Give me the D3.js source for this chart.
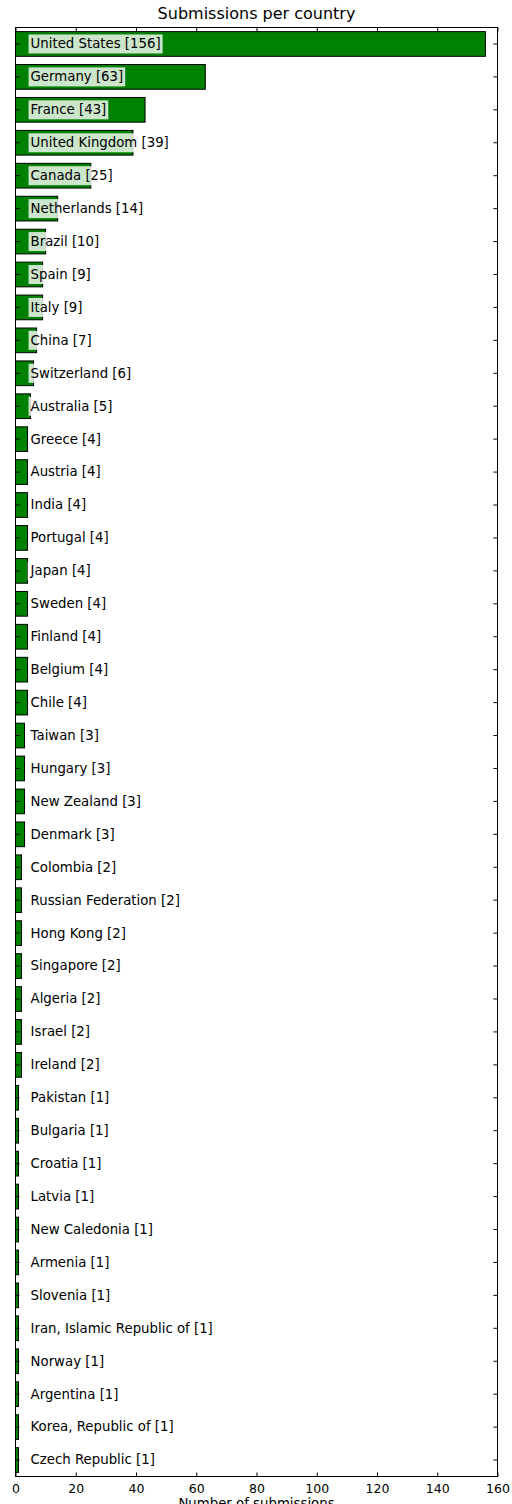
<!DOCTYPE html>
<html><head><meta charset="utf-8">
<script src="https://cdn.jsdelivr.net/npm/d3@7"></script>
<style>body{margin:0;background:#fff}svg{display:block;font-family:"DejaVu Sans",sans-serif}</style>
</head><body><svg id="c" width="512" height="1504"></svg>
<script>
const countries = ["United States","Germany","France","United Kingdom","Canada","Netherlands","Brazil","Spain","Italy","China","Switzerland","Australia","Greece","Austria","India","Portugal","Japan","Sweden","Finland","Belgium","Chile","Taiwan","Hungary","New Zealand","Denmark","Colombia","Russian Federation","Hong Kong","Singapore","Algeria","Israel","Ireland","Pakistan","Bulgaria","Croatia","Latvia","New Caledonia","Armenia","Slovenia","Iran, Islamic Republic of","Norway","Argentina","Korea, Republic of","Czech Republic"];
const submissions = [156,63,43,39,25,14,10,9,9,7,6,5,4,4,4,4,4,4,4,4,4,3,3,3,3,2,2,2,2,2,2,2,1,1,1,1,1,1,1,1,1,1,1,1];
const xTicks = [0,20,40,60,80,100,120,140,160];

const svg = d3.select("#c");
const L=15.5, R=497.5, T=27.5, B=1476.5;
const x = d3.scaleLinear().domain([0,160]).range([L,R]);
const y = d3.scaleBand().domain(countries).range([T,B]).paddingInner(0.25).paddingOuter(0.125);

const g = svg.append("g");
g.selectAll("rect.bar").data(countries).join("rect").attr("class","bar")
  .attr("x",x(0)).attr("y",d=>y(d))
  .attr("width",(d,i)=>x(submissions[i])-x(0)).attr("height",y.bandwidth())
  .attr("fill","#008000").attr("stroke","#000").attr("stroke-width",1);

const lab = g.selectAll("g.lab").data(countries).join("g").attr("class","lab");
lab.each(function(d,i){
  const s=d3.select(this);
  const cy=y(d)+y.bandwidth()/2;
  const r=s.append("rect").attr("fill","#fff").attr("fill-opacity",0.8);
  const t=s.append("text").attr("x",x(5)).attr("y",cy).attr("dy","0.33em")
    .attr("font-size",13.3).attr("fill","#000").text(`${d} [${submissions[i]}]`);
  const bb=t.node().getBBox();
  r.attr("x",bb.x-2).attr("y",cy-9.5).attr("width",bb.width+4).attr("height",19);
});

// frame
svg.append("rect").attr("x",L).attr("y",T).attr("width",R-L).attr("height",B-T)
  .attr("fill","none").attr("stroke","#000").attr("stroke-width",1);

// x axis
const xb = svg.append("g").attr("transform",`translate(0,${B})`)
  .call(d3.axisBottom(x).tickValues(xTicks).tickSize(-4).tickPadding(8).tickFormat(d3.format("d")));
xb.select(".domain").remove();
xb.selectAll("text").attr("font-size",12.5).attr("font-family","DejaVu Sans").attr("fill","#000");
const xt = svg.append("g").attr("transform",`translate(0,${T})`)
  .call(d3.axisTop(x).tickValues(xTicks).tickSize(-4).tickFormat(""));
xt.select(".domain").remove();

// y ticks
const yl = svg.append("g").attr("transform",`translate(${L},0)`)
  .call(d3.axisLeft(y).tickSize(-4).tickFormat(""));
yl.select(".domain").remove();
const yr = svg.append("g").attr("transform",`translate(${R},0)`)
  .call(d3.axisRight(y).tickSize(-4).tickFormat(""));
yr.select(".domain").remove();

svg.append("text").attr("x",(L+R)/2).attr("y",18.5).attr("text-anchor","middle")
  .attr("font-size",16).text("Submissions per country");
svg.append("text").attr("x",(L+R)/2).attr("y",1508).attr("text-anchor","middle")
  .attr("font-size",13.3).text("Number of submissions");
</script></body></html>
